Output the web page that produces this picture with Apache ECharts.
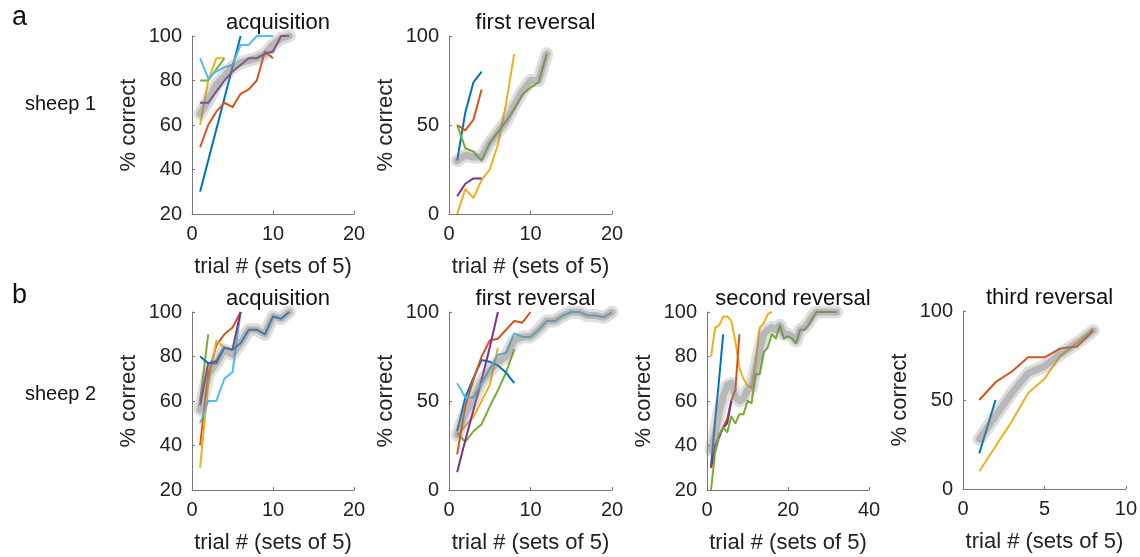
<!DOCTYPE html>
<html>
<head>
<meta charset="utf-8">
<script src="https://cdn.jsdelivr.net/npm/echarts@6/dist/echarts.min.js"></script>
<style>
  html, body { margin: 0; padding: 0; background: #fff; }
  #chart { width: 1140px; height: 557px; }
</style>
</head>
<body>
<div id="chart"></div>
<script>
// ---- Learning curves, % correct per set of 5 trials (trial 1, 2, 3, ...) ----

// sheep 1, acquisition
const s1AcqBlue   = [30, 44, 58, 72, 86, 100];
const s1AcqOrange = [50, 60, 66, 70, 68, 74, 76, 80, 93, 90];
const s1AcqYellow = [60, 80, 90, 90];
const s1AcqGreen  = [80, 80, 85, 90];
const s1AcqCyan   = [90, 81, 84, 86, 87, 96, 96, 100, 100, 100];
const s1AcqPurple = [70, 70, 75, 80, 84, 87, 90, 90, 92, 93, 100, 100];
const s1AcqMean   = [65, 71, 78, 82, 86, 88, 89, 90, 92, 96, 99, 100];

// sheep 1, first reversal
const s1Rev1Blue   = [30, 57, 74, 80];
const s1Rev1Orange = [50, 47, 53, 70];
const s1Rev1Green  = [50, 37, 35, 30, 40, 46, 52, 59, 67, 71, 74, 90];
const s1Rev1Yellow = [0, 14, 9, 19, 25, 39, 62, 90];
const s1Rev1Purple = [10, 17, 20, 20];
const s1Rev1Mean   = [30, 33, 32, 32, 40, 46, 52, 61, 69, 75, 75, 90];

// sheep 2, acquisition
const s2AcqBlue   = [80, 77, 78, 84, 83, 86, 92, 92, 90, 98, 97, 100];
const s2AcqGreen  = [60, 90];
const s2AcqOrange = [40, 72, 85, 90, 93, 100];
const s2AcqYellow = [30, 68, 87, 84];
const s2AcqPurple = [58, 77, 77, 84, 83, 100];
const s2AcqCyan   = [50, 60, 60, 70, 73, 100];
const s2AcqMean   = [56, 72, 77, 83, 81, 86, 92, 92, 90, 98, 97, 100];

// sheep 2, first reversal
const s2Rev1Cyan   = [60, 52, 52, 60, 68, 76, 77, 88, 86, 86, 90, 95, 95, 98, 100, 100, 98, 98, 97, 100];
const s2Rev1Purple = [10, 28, 45, 62, 80, 100];
const s2Rev1Orange = [20, 47, 62, 75, 84, 85, 90, 95, 94, 100];
const s2Rev1Blue   = [33, 52, 63, 73, 72, 70, 66, 60];
const s2Rev1Yellow = [30, 36, 41, 50, 59, 80];
const s2Rev1Green  = [32, 27, 33, 37, 47, 56, 66, 79];
const s2Rev1Mean   = [31, 43, 51, 61, 67, 72, 75, 84, 86, 86, 90, 95, 95, 98, 100, 100, 98, 98, 97, 100];

// sheep 2, second reversal
const s2Rev2Yellow = [80, 93, 94, 98, 98, 96, 87, 75, 70, 67, 66, 77, 93, 95, 99, 100];
const s2Rev2Blue   = [31, 51, 70, 90];
const s2Rev2Orange = [30, 38, 44, 48, 52, 60, 65, 90];
const s2Rev2Purple = [30, 40, 44, 48, 50, 60];
const s2Rev2Green  = [20, 37, 45, 48, 46, 53, 50, 54, 54, 60, 59, 72, 72, 82, 84, 90, 88, 94, 88, 89,
                      88, 86, 92, 92, 94, 97, 100, 100, 100, 100, 100, 100];
const s2Rev2Mean   = [38, 45, 55, 62, 67, 68, 62, 60, 61, 65, 66, 75, 83, 90, 92, 93, 92, 94, 90, 90,
                      89, 87, 92, 93, 95, 98, 100, 100, 100, 100, 100, 100];

// sheep 2, third reversal
const s2Rev3Orange = [50, 60, 66, 74, 74, 79, 80, 89];
const s2Rev3Yellow = [10, 24, 38, 54, 62, 75, 82, 90];
const s2Rev3Blue   = [20, 50];
const s2Rev3Mean   = [28, 41, 54, 65, 69, 76, 82, 89];

// panel titles, axis labels and axis ranges
const panelTitles = ['acquisition', 'first reversal', 'acquisition', 'first reversal', 'second reversal', 'third reversal'];
const xMaxes      = [20, 20, 20, 20, 40, 10];
const xSteps      = [10, 10, 10, 10, 20, 5];
const yMins       = [20, 0, 20, 0, 20, 0];
const ySteps      = [20, 50, 20, 50, 20, 50];
const xAxisTitle  = 'trial # (sets of 5)';
const yAxisTitle  = '% correct';
const rowLetters  = ['a', 'b'];
const rowAnimals  = ['sheep 1', 'sheep 2'];

// ---- styling ----
const FONT = '"Liberation Sans", Arial, Helvetica, sans-serif';
const C = {
  blue: '#0072BD', orange: '#D95319', yellow: '#EDB120',
  purple: '#7E2F8E', green: '#77AC30', cyan: '#4DBEEE'
};

// one grid per panel (pixel boxes of the plotting areas)
const boxes = [
  { left: 192, top: 36,  width: 162, height: 178 },
  { left: 449, top: 36,  width: 163, height: 178 },
  { left: 192, top: 312, width: 162, height: 178 },
  { left: 449, top: 312, width: 163, height: 178 },
  { left: 707, top: 312, width: 162, height: 178 },
  { left: 963, top: 311, width: 163, height: 178 }
];

// colored per-animal lines and the grey group mean for each panel
const panels = [
  { lines: [[s1AcqBlue, C.blue], [s1AcqOrange, C.orange], [s1AcqYellow, C.yellow], [s1AcqGreen, C.green],
            [s1AcqCyan, C.cyan], [s1AcqPurple, C.purple]], mean: s1AcqMean },
  { lines: [[s1Rev1Blue, C.blue], [s1Rev1Orange, C.orange], [s1Rev1Yellow, C.yellow], [s1Rev1Purple, C.purple],
            [s1Rev1Green, C.green]], mean: s1Rev1Mean },
  { lines: [[s2AcqGreen, C.green], [s2AcqOrange, C.orange], [s2AcqYellow, C.yellow], [s2AcqCyan, C.cyan],
            [s2AcqPurple, C.purple], [s2AcqBlue, C.blue]], mean: s2AcqMean },
  { lines: [[s2Rev1Green, C.green], [s2Rev1Yellow, C.yellow], [s2Rev1Blue, C.blue], [s2Rev1Orange, C.orange],
            [s2Rev1Purple, C.purple], [s2Rev1Cyan, C.cyan]], mean: s2Rev1Mean },
  { lines: [[s2Rev2Yellow, C.yellow], [s2Rev2Blue, C.blue], [s2Rev2Orange, C.orange], [s2Rev2Purple, C.purple],
            [s2Rev2Green, C.green]], mean: s2Rev2Mean },
  { lines: [[s2Rev3Yellow, C.yellow], [s2Rev3Orange, C.orange], [s2Rev3Blue, C.blue]], mean: s2Rev3Mean }
];

const toPoints = vals => vals.map((v, i) => [i + 1, v]);
const AXIS_COLOR = '#777';
const TEXT_COLOR = '#222';

const grid = [], xAxis = [], yAxis = [], series = [], title = [];

boxes.forEach((b, k) => {
  grid.push(Object.assign({ containLabel: false }, b));
  xAxis.push({
    gridIndex: k, type: 'value', min: 0, max: xMaxes[k], interval: xSteps[k],
    axisLine: { show: true, lineStyle: { color: AXIS_COLOR, width: 1 } },
    axisTick: { show: true, inside: true, length: 3, lineStyle: { color: AXIS_COLOR } },
    axisLabel: { color: TEXT_COLOR, fontSize: 20, fontFamily: FONT, margin: 10 },
    splitLine: { show: false },
    name: xAxisTitle, nameLocation: 'middle', nameGap: 42,
    nameTextStyle: { color: TEXT_COLOR, fontSize: 22, fontFamily: FONT }
  });
  yAxis.push({
    gridIndex: k, type: 'value', min: yMins[k], max: 100, interval: ySteps[k],
    axisLine: { show: true, lineStyle: { color: AXIS_COLOR, width: 1 } },
    axisTick: { show: true, inside: true, length: 3, lineStyle: { color: AXIS_COLOR } },
    axisLabel: { color: TEXT_COLOR, fontSize: 20, fontFamily: FONT, margin: 10 },
    splitLine: { show: false },
    name: yAxisTitle, nameLocation: 'middle', nameGap: 52,
    nameTextStyle: { color: TEXT_COLOR, fontSize: 22, fontFamily: FONT }
  });
  title.push({
    text: panelTitles[k], left: b.left + b.width / 2, top: b.top - 29, textAlign: 'center',
    textStyle: { color: '#111', fontSize: 22, fontWeight: 'normal', fontFamily: FONT }
  });

  const p = panels[k];
  p.lines.forEach(([vals, col]) => {
    series.push({
      type: 'line', xAxisIndex: k, yAxisIndex: k, data: toPoints(vals),
      symbol: 'none', silent: true,
      lineStyle: { color: col, width: 2, join: 'round' }
    });
  });
  // grey mean: soft error band plus core line, drawn over the individual curves
  series.push({
    type: 'line', xAxisIndex: k, yAxisIndex: k, data: toPoints(p.mean),
    symbol: 'none', silent: true,
    lineStyle: { color: 'rgba(128,128,128,0.26)', width: 13, cap: 'round', join: 'round' }
  });
  series.push({
    type: 'line', xAxisIndex: k, yAxisIndex: k, data: toPoints(p.mean),
    symbol: 'none', silent: true,
    lineStyle: { color: 'rgba(128,128,128,0.40)', width: 7, cap: 'round', join: 'round' }
  });
});

const chart = echarts.init(document.getElementById('chart'), null, { renderer: 'canvas' });
chart.setOption({
  animation: false,
  backgroundColor: '#fff',
  title: title,
  grid: grid,
  xAxis: xAxis,
  yAxis: yAxis,
  series: series,
  graphic: [
    { type: 'text', left: 12, top: 4, style: { text: rowLetters[0], fontSize: 27, fontFamily: FONT, fill: '#111' } },
    { type: 'text', left: 12, top: 282, style: { text: rowLetters[1], fontSize: 27, fontFamily: FONT, fill: '#111' } },
    { type: 'text', left: 25, top: 94, style: { text: rowAnimals[0], fontSize: 20, fontFamily: FONT, fill: '#111' } },
    { type: 'text', left: 25, top: 384, style: { text: rowAnimals[1], fontSize: 20, fontFamily: FONT, fill: '#111' } }
  ]
});
</script>
</body>
</html>
